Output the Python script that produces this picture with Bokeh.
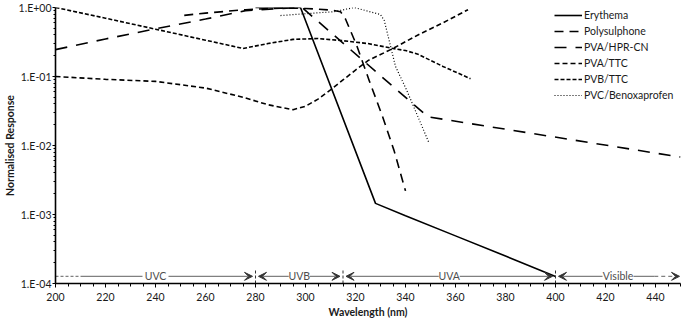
from bokeh.plotting import figure
from bokeh.models import (FixedTicker, Arrow, VeeHead, ColumnDataSource, Legend,
                          LegendItem, Range1d)
from bokeh.core.properties import value
from bokeh.embed import file_html
from bokeh.resources import INLINE

# ---- Spectral response data (wavelength in nm, normalised response) ----
erythema_nm = [280, 298, 328, 340, 360, 380, 400]
erythema = [1.0, 1.0, 1.45e-3, 9.6e-4, 4.9e-4, 2.5e-4, 1.26e-4]

polysulphone_nm = [251.5, 260, 276, 290, 300, 310, 314, 316, 318, 320.5, 325.5, 330.7, 335.4, 340]
polysulphone = [0.77, 0.83, 0.93, 0.98, 0.97, 0.92, 0.87, 0.68, 0.46, 0.28, 0.087, 0.027, 0.0085, 0.0022]

pva_hpr_nm = [200, 220, 240, 260, 276, 290, 298.6, 349, 450]
pva_hpr = [0.245, 0.35, 0.49, 0.68, 0.9, 0.97, 1.0, 0.026, 0.0068]

pva_ttc_nm = [200, 220, 240, 260, 275, 285, 295, 300, 305, 310, 315, 320, 325, 335, 345, 355, 365]
pva_ttc = [0.1, 0.091, 0.085, 0.068, 0.05, 0.039, 0.033, 0.037, 0.047, 0.064, 0.089, 0.124, 0.17,
           0.255, 0.40, 0.60, 0.93]

pvb_ttc_nm = [200, 220, 240, 260, 275, 285, 295, 305, 315, 325, 335, 340, 345, 355, 366]
pvb_ttc = [1.0, 0.70, 0.485, 0.336, 0.255, 0.30, 0.345, 0.355, 0.33, 0.30, 0.255, 0.238, 0.21,
           0.14, 0.093]

pvc_benox_nm = [290, 311.5, 319.5, 330, 331.5, 336, 340.5, 349.5]
pvc_benox = [0.765, 0.87, 1.0, 0.79, 0.65, 0.14, 0.063, 0.0107]

# ---- Axis ticks ----
xticks = list(range(200, 441, 20))
xminor = list(range(200, 451, 5))
ytick_vals = [1e-4, 1e-3, 1e-2, 1e-1, 1.0]
ytick_labels = ["1.E-04", "1.E-03", "1.E-02", "1.E-01", "1.E+00"]
yminor = [m * 10.0 ** e for e in range(-4, 0) for m in range(2, 10)]

# ---- Spectral bands drawn along the bottom ----
band_edges = [200, 280, 315, 400, 450]
band_names = ["UVC", "UVB", "UVA", "Visible"]
band_level = 1.27e-4
band_marker_top = 1.55e-4

FONT = "Lato"
INK = "#1a1a1a"
BAND_GREY = "#808080"
BAND_TEXT = "#4d4d4d"

p = figure(width=696, height=321, y_axis_type="log", output_backend="svg",
           toolbar_location=None, x_range=Range1d(200, 450), y_range=Range1d(1e-4, 1.0),
           min_border_left=48, min_border_right=16, min_border_top=7, min_border_bottom=38)
p.outline_line_color = None
p.xgrid.visible = False
p.ygrid.visible = False
p.background_fill_color = "white"
p.border_fill_color = "white"

# axes
p.xaxis.ticker = FixedTicker(ticks=xticks, minor_ticks=xminor)
p.yaxis.ticker = FixedTicker(ticks=ytick_vals, minor_ticks=yminor)
p.yaxis.major_label_overrides = dict(zip(ytick_vals, ytick_labels))
for ax in (p.xaxis[0], p.yaxis[0]):
    ax.axis_line_color = "black"
    ax.axis_line_width = 1.6
    ax.major_tick_line_color = "black"
    ax.minor_tick_line_color = "black"
    ax.major_tick_in = 0
    ax.minor_tick_in = 0
    ax.major_label_text_font = FONT
    ax.major_label_text_font_size = "10.5px"
    ax.major_label_text_color = INK
    ax.axis_label_text_font = FONT
    ax.axis_label_text_font_size = "10.5px"
    ax.axis_label_text_font_style = "bold"
    ax.axis_label_text_color = INK
p.xaxis.major_tick_out = 4
p.xaxis.minor_tick_out = 3
p.xaxis.major_label_standoff = 5
p.xaxis.axis_label_standoff = 2
p.yaxis.major_tick_out = 3
p.yaxis.minor_tick_out = 2
p.yaxis.major_label_standoff = 1
p.yaxis.axis_label_standoff = 0
p.xaxis.axis_label = "Wavelength (nm)"
p.yaxis.axis_label = "Normalised Response"

# response curves
series = [
    ("Erythema", erythema_nm, erythema, "solid", 1.6),
    ("Polysulphone", polysulphone_nm, polysulphone, "9 6", 1.6),
    ("PVA/HPR-CN", pva_hpr_nm, pva_hpr, "12 9", 1.6),
    ("PVA/TTC", pva_ttc_nm, pva_ttc, "5 3", 1.6),
    ("PVB/TTC", pvb_ttc_nm, pvb_ttc, "4 2", 1.6),
    ("PVC/Benoxaprofen", pvc_benox_nm, pvc_benox, "1 2", 1.2),
]
items = []
for name, xs, ys, dash, lw in series:
    r = p.line(xs, ys, line_color="black", line_width=lw, line_dash=dash)
    items.append(LegendItem(label=name, renderers=[r]))

legend = Legend(items=items, location=(499, 180), glyph_width=28, glyph_height=16,
                label_height=16, label_standoff=2, spacing=0, padding=0, margin=0,
                border_line_color=None, background_fill_alpha=0,
                label_text_font=FONT, label_text_font_size="10.5px", label_text_color=INK)
p.add_layout(legend)

# spectral band annotation
half_gap = [5.2, 4.2, 4.2, 6.2]   # space left around each band name, nm
tip = 1.2                          # arrow tips stop just short of the band edge
n = len(band_names)
mids = [(band_edges[i] + band_edges[i + 1]) / 2 for i in range(n)]

head_src = dict(xs=[], xe=[])
plain = dict(x0=[], x1=[])
for i in range(n):
    e0, e1, m, g = band_edges[i], band_edges[i + 1], mids[i], half_gap[i]
    # left half
    if i == 0:
        p.line([e0, e0 + 10], [band_level] * 2, line_color=BAND_GREY, line_width=1.3,
               line_dash="3 2")
        plain["x0"].append(e0 + 10); plain["x1"].append(m - g)
    else:
        head_src["xs"].append(m - g); head_src["xe"].append(e0 + tip)
    # right half
    if i == n - 1:
        plain["x0"].append(m + g); plain["x1"].append(e1 - 10.5)
        p.add_layout(Arrow(x_start=e1 - 10.5, y_start=band_level, x_end=e1 - 0.4,
                           y_end=band_level, line_color=BAND_GREY, line_width=1.3,
                           line_dash="4 3",
                           end=VeeHead(size=8, fill_color="#333333", line_color="#333333")))
    else:
        head_src["xs"].append(m + g); head_src["xe"].append(e1 - tip)

p.segment(x0=plain["x0"], y0=[band_level] * len(plain["x0"]), x1=plain["x1"],
          y1=[band_level] * len(plain["x1"]), line_color=BAND_GREY, line_width=1.3)
asrc = ColumnDataSource(dict(xs=head_src["xs"], xe=head_src["xe"],
                             y=[band_level] * len(head_src["xs"])))
p.add_layout(Arrow(x_start="xs", y_start="y", x_end="xe", y_end="y", source=asrc,
                   line_color=BAND_GREY, line_width=1.3,
                   end=VeeHead(size=8, fill_color="#333333", line_color="#333333")))

inner_edges = band_edges[1:-1]
p.segment(x0=inner_edges, y0=[1e-4] * len(inner_edges), x1=inner_edges,
          y1=[band_marker_top] * len(inner_edges), line_color="#333333", line_width=1,
          line_dash="3 2")

p.text(x=mids, y=[band_level] * n, text=band_names, text_align="center",
       text_baseline="middle", text_font=value(FONT), text_font_size="10.5px",
       text_color=BAND_TEXT)

open("out.html", "w").write(file_html(p, INLINE))
